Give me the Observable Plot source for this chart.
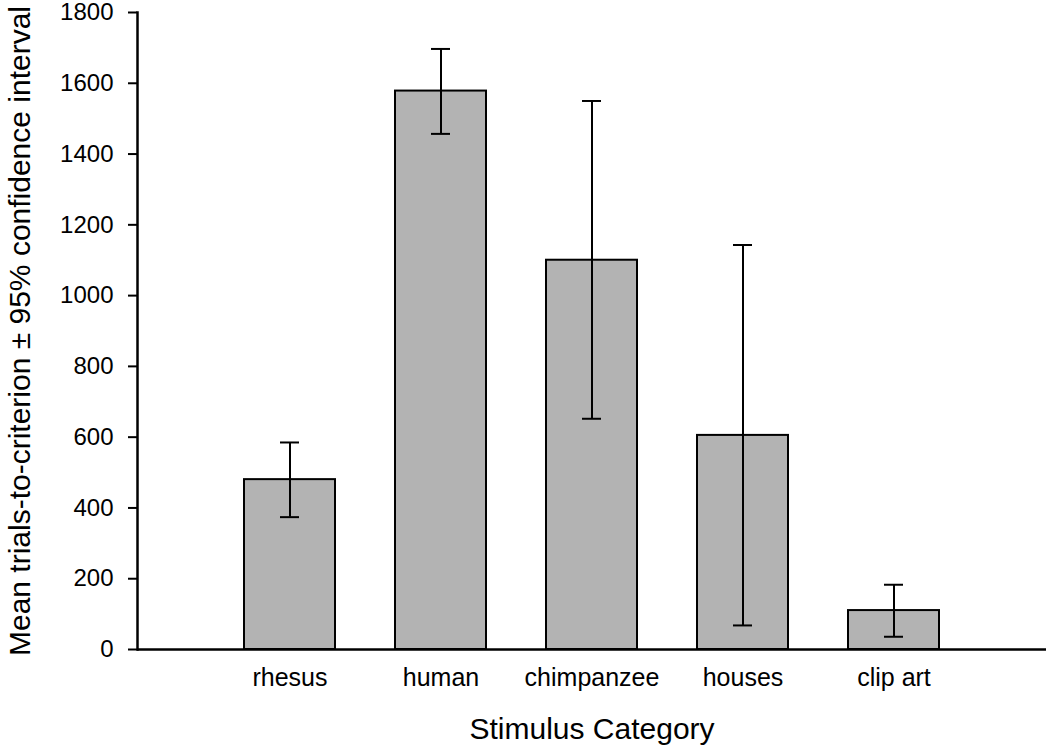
<!DOCTYPE html>
<html>
<head>
<meta charset="utf-8">
<script src="https://cdn.jsdelivr.net/npm/d3@7"></script>
<script src="https://cdn.jsdelivr.net/npm/@observablehq/plot@0.6"></script>
<style>
  html, body { margin: 0; padding: 0; background: #fff; overflow: hidden; }
  #chart svg { display: block; }
</style>
</head>
<body>
<div id="chart"></div>
<script>
const categories = ["rhesus", "human", "chimpanzee", "houses", "clip art"];
const means = [480, 1578, 1100, 605, 110];
const lower = [374, 1457, 652, 68, 36];
const upper = [585, 1697, 1550, 1143, 183];
const yTicks = [0, 200, 400, 600, 800, 1000, 1200, 1400, 1600, 1800];

const data = categories.map((c, i) => ({cat: c, mean: means[i], lo: lower[i], hi: upper[i]}));
const font = "'Liberation Sans', Arial, sans-serif";

const chart = Plot.plot({
  width: 1050,
  height: 751,
  marginTop: 12,
  marginBottom: 102,
  marginLeft: 137,
  marginRight: 4,
  style: {fontFamily: font, background: "#fff", color: "#000"},
  x: {type: "band", domain: categories, paddingInner: 0.4, paddingOuter: 0.7},
  y: {domain: [0, 1800]},
  marks: [
    Plot.barY(data, {x: "cat", y: "mean", fill: "#b3b3b3", stroke: "#000", strokeWidth: 2}),
    Plot.ruleX(data, {x: "cat", y1: "lo", y2: "hi", stroke: "#000", strokeWidth: 2}),
    Plot.tickY(data, {x: "cat", y: "lo", stroke: "#000", strokeWidth: 2, insetLeft: 36, insetRight: 36}),
    Plot.tickY(data, {x: "cat", y: "hi", stroke: "#000", strokeWidth: 2, insetLeft: 36, insetRight: 36}),
    Plot.ruleY([0], {stroke: "#000", strokeWidth: 2.5}),
    Plot.frame({anchor: "left", stroke: "#000", strokeWidth: 2.5}),
    Plot.axisY({ticks: yTicks, tickFormat: d => String(d), tickSize: 9, tickPadding: 15, fontSize: 24, strokeWidth: 2, label: null}),
    Plot.axisY({ticks: [], label: "Mean trials-to-criterion ± 95% confidence interval", labelAnchor: "center", labelArrow: "none", labelOffset: 129, fontSize: 30}),
    Plot.axisX({tickSize: 0, tickPadding: 19, fontSize: 25, label: null}),
    Plot.axisX({ticks: [], label: "Stimulus Category", labelAnchor: "center", labelArrow: "none", labelOffset: 89, fontSize: 30})
  ]
});
document.getElementById("chart").appendChild(chart);
</script>
</body>
</html>
